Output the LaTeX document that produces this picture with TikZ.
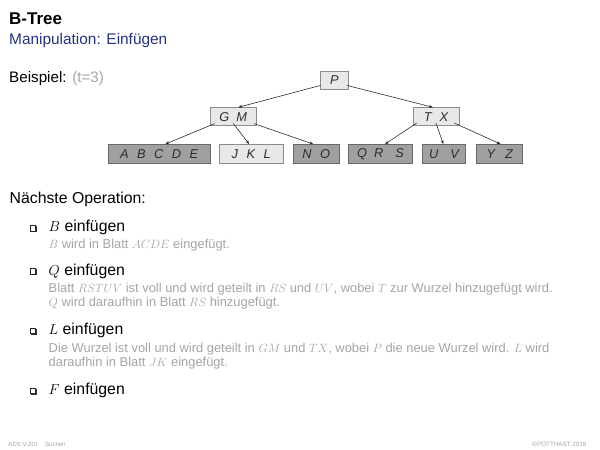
\documentclass[tikz,border=0pt]{standalone}
\usepackage{fontspec}
\setmainfont{Liberation Sans}
\usetikzlibrary{arrows.meta,calc}
\definecolor{tblue}{RGB}{38,52,128}
\definecolor{tgray}{RGB}{165,165,165}
\definecolor{lightfill}{RGB}{232,232,232}
\definecolor{lightdraw}{RGB}{140,140,140}
\definecolor{darkfill}{RGB}{160,160,160}
\definecolor{darkdraw}{RGB}{105,105,105}
\definecolor{txtdark}{RGB}{45,45,45}
\tikzset{
  keybox/.style={draw=lightdraw, fill=lightfill, line width=0.8pt, inner sep=0pt,
    minimum height=18pt, text=txtdark, font=\fontsize{12.8}{13}\selectfont\itshape},
  leafdark/.style={keybox, draw=darkdraw, fill=darkfill, minimum height=19pt},
  leaflight/.style={keybox, minimum height=19pt},
  edge/.style={draw=txtdark, line width=0.6pt, -{Stealth[length=4pt,width=3pt]}},
  txt/.style={anchor=base west, inner sep=0pt},
  item/.style={txt, font=\fontsize{15.8}{17}\selectfont},
  desc/.style={txt, text=tgray, font=\fontsize{12.9}{14}\selectfont},
  bul/.style={draw=black!85, fill=white, line width=0.5pt}
}
\newcommand{\gp}{\hspace{8.5pt}}
\newcommand{\sqbul}[2]{%
  \fill[black!80] (#1+1,#2-5.8) rectangle (#1+6.6,#2+0.3);
  \draw[bul] (#1,#2-6.5) rectangle (#1+5.6,#2-0.9);}
\begin{document}
\begin{tikzpicture}[x=1pt,y=-1pt]
\useasboundingbox[fill=white] (0,0) rectangle (600,450);

% header
\node[txt, font=\fontsize{17}{20}\selectfont\bfseries] (title) at (9,24) {B-Tree};
\node[txt, text=tblue, font=\fontsize{15.4}{17}\selectfont] (sub) at (9,44) {Manipulation: Einfügen};
\node[txt, font=\fontsize{15.2}{17}\selectfont] (bsp) at (9,82.5) {Beispiel: \textcolor{tgray}{(t=3)}};

% tree
\node[keybox, minimum width=28pt] (P) at (334.5,80) {P};
\node[keybox, minimum width=46.5pt] (GM) at (233.3,116.7) {G\hspace{7pt}M};
\node[keybox, minimum width=46pt] (TX) at (436,116.7) {T\hspace{8pt}X};
\node[leafdark, minimum width=101.7pt] (ABCDE) at (159.2,154) {A\gp B\gp C\gp D\gp E};
\node[leaflight, minimum width=64.3pt] (JKL) at (251.2,154) {J\gp K\gp L};
\node[leafdark, minimum width=46pt] (NO) at (316.3,154) {N\gp O};
\node[leafdark, minimum width=64.4pt] (QRS) at (380.5,154) {Q\hspace{7pt}R\hspace{12pt}S};
\node[leafdark, minimum width=43.4pt] (UV) at (444,154) {U\hspace{12pt}V};
\node[leafdark, minimum width=46pt] (YZ) at (499.7,154) {Y\hspace{10pt}Z};

\draw[edge] ($(P.south west)+(0.5,-4)$) -- ($(GM.north)+(5,0)$);
\draw[edge] ($(P.south east)+(-2,-4)$) -- ($(TX.north)+(-3,0)$);
\draw[edge] ($(GM.south west)+(5,-2.5)$) -- ($(ABCDE.north)+(6,0)$);
\draw[edge] ($(GM.south)+(0,-2.5)$) -- ($(JKL.north)+(-2,0)$);
\draw[edge] ($(GM.south east)+(-3,-2.5)$) -- ($(NO.north)+(-3,0)$);
\draw[edge] ($(TX.south west)+(4,-3)$) -- ($(QRS.north)+(4.5,0)$);
\draw[edge] ($(TX.south)+(0,-3)$) -- ($(UV.north)+(-0.7,0)$);
\draw[edge] ($(TX.south east)+(-5,-3)$) -- ($(YZ.north)+(1,0)$);

% operations
\node[item] (nop) at (9.5,203.5) {Nächste Operation:};

\sqbul{30}{231.7}
\node[item] (i1) at (48.5,231.7) {$B$ einfügen};
\node[desc] (d1) at (48.5,248.3) {$B$ wird in Blatt $ACDE$ eingefügt.};

\sqbul{30}{275}
\node[item] (i2) at (48.5,275) {$Q$ einfügen};
\node[desc] (d2a) at (48.5,292.5) {Blatt $RSTUV$ ist voll und wird geteilt in $RS$ und $UV$, wobei $T$ zur Wurzel hinzugefügt wird.};
\node[desc] (d2b) at (48.5,306.3) {$Q$ wird daraufhin in Blatt $RS$ hinzugefügt.};

\sqbul{30}{334.5}
\node[item] (i3) at (48.5,334.5) {$L$ einfügen};
\node[desc] (d3a) at (48.5,352.2) {Die Wurzel ist voll und wird geteilt in $GM$ und $TX$, wobei $P$ die neue Wurzel wird. $L$ wird};
\node[desc] (d3b) at (48.5,366) {daraufhin in Blatt $JK$ eingefügt.};

\sqbul{30}{394.3}
\node[item] (i4) at (48.5,394.3) {$F$ einfügen};

% footer
\node[txt, text=tgray, font=\fontsize{6}{7}\selectfont] (f1) at (8.3,446) {ADS:V-201\hspace{7pt}Suchen};
\node[anchor=base east, inner sep=0pt, text=tgray, font=\fontsize{6.3}{7}\selectfont] (f2) at (586.7,446) {©POTTHAST 2019};
\end{tikzpicture}
\end{document}
